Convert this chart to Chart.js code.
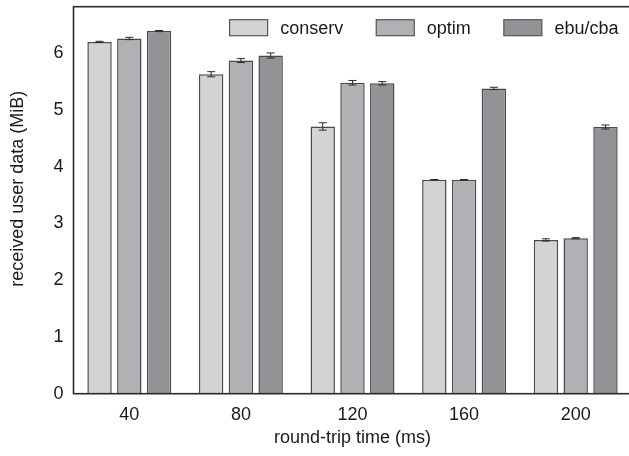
<!DOCTYPE html>
<html>
<head>
<meta charset="utf-8">
<script src="https://cdn.jsdelivr.net/npm/chart.js@4/dist/chart.umd.min.js"></script>
<style>
  html, body { margin: 0; padding: 0; background: #fff; overflow: hidden; }
  #wrap { width: 640px; height: 456px; }
</style>
</head>
<body>
<div id="wrap"><canvas id="rttChart" width="640" height="456"></canvas></div>
<script>
// round-trip time categories (ms)
const categories = ['40', '80', '120', '160', '200'];

// received user data (MiB)
const conserv = [6.20, 5.63, 4.71, 3.77, 2.71];
const optim   = [6.26, 5.87, 5.48, 3.77, 2.74];
const ebuCba  = [6.39, 5.96, 5.47, 5.38, 4.70];

// error bar half-widths (MiB)
const conservErr = [0.01, 0.045, 0.065, 0.005, 0.02];
const optimErr   = [0.02, 0.035, 0.04, 0.005, 0.01];
const ebuCbaErr  = [0.01, 0.045, 0.03, 0.02, 0.035];

const yMin = 0;
const yMax = 6.82;
const yStep = 1;

const yTitle = 'received user data (MiB)';
const xTitle = 'round-trip time (ms)';

const FONT = "'Liberation Sans', Arial, Helvetica, sans-serif";
const INK = '#1a1a1a';

// frame round the plot area (right side falls off the canvas, as in the figure)
const framePlugin = {
    id: 'frame',
    afterDraw(chart) {
        const { ctx, chartArea: a } = chart;
        ctx.save();
        ctx.strokeStyle = '#2b2b2b';
        ctx.lineWidth = 1.6;
        ctx.strokeRect(a.left, a.top, a.right - a.left, a.bottom - a.top);
        ctx.restore();
    }
};

// error bars drawn from the errors arrays through the y scale
const errorBarPlugin = {
    id: 'errorBars',
    afterDatasetsDraw(chart) {
        const { ctx } = chart;
        const yScale = chart.scales.y;
        ctx.save();
        ctx.strokeStyle = '#2a2a2a';
        ctx.lineWidth = 1;
        chart.data.datasets.forEach((ds, di) => {
            const meta = chart.getDatasetMeta(di);
            meta.data.forEach((bar, i) => {
                const v = ds.data[i];
                const e = ds.errors[i];
                const yHi = yScale.getPixelForValue(v + e);
                const yLo = yScale.getPixelForValue(v - e);
                const x = bar.x;
                const cap = 4;
                ctx.beginPath();
                ctx.moveTo(x, yHi); ctx.lineTo(x, yLo);
                ctx.moveTo(x - cap, yHi); ctx.lineTo(x + cap, yHi);
                ctx.moveTo(x - cap, yLo); ctx.lineTo(x + cap, yLo);
                ctx.stroke();
            });
        });
        ctx.restore();
    }
};

// y title sits a bit above the middle of the axis in the figure
const yTitlePlugin = {
    id: 'yTitle',
    afterDraw(chart) {
        const { ctx, chartArea: a } = chart;
        ctx.save();
        ctx.font = '18px ' + FONT;
        ctx.fillStyle = INK;
        ctx.textAlign = 'center';
        ctx.textBaseline = 'middle';
        ctx.translate(a.left - 55.5, (a.top + a.bottom) / 2 - 11.5);
        ctx.rotate(-Math.PI / 2);
        ctx.fillText(yTitle, 0, 0);
        ctx.restore();
    }
};

// legend sits inside the plot area, top right
const insideLegendPlugin = {
    id: 'insideLegend',
    afterDraw(chart) {
        const { ctx, chartArea: a } = chart;
        const boxW = 38, boxH = 16, textGap = 12.6, itemGap = 33;
        ctx.save();
        ctx.font = '18px ' + FONT;
        ctx.textBaseline = 'middle';
        const items = chart.data.datasets.map(ds => ({
            ds, w: ctx.measureText(ds.label).width
        }));
        const total = items.reduce((s, it) => s + boxW + textGap + it.w, 0) + itemGap * (items.length - 1);
        let x = a.right - 13 - total;
        const yMid = a.top + 21;
        items.forEach(it => {
            ctx.fillStyle = it.ds.backgroundColor;
            ctx.fillRect(x, yMid - boxH / 2, boxW, boxH);
            ctx.strokeStyle = '#555';
            ctx.lineWidth = 1.2;
            ctx.strokeRect(x, yMid - boxH / 2, boxW, boxH);
            ctx.fillStyle = INK;
            ctx.fillText(it.ds.label, x + boxW + textGap, yMid + 1);
            x += boxW + textGap + it.w + itemGap;
        });
        ctx.restore();
    }
};

const barStyle = {
    borderColor: '#4a4a4a',
    borderWidth: 1.5,
    categoryPercentage: 0.8,
    barPercentage: 0.82
};

new Chart(document.getElementById('rttChart').getContext('2d'), {
    type: 'bar',
    data: {
        labels: categories,
        datasets: [
            { label: 'conserv', data: conserv, errors: conservErr, backgroundColor: '#d2d3d5', ...barStyle },
            { label: 'optim', data: optim, errors: optimErr, backgroundColor: '#b0b1b4', ...barStyle },
            { label: 'ebu/cba', data: ebuCba, errors: ebuCbaErr, backgroundColor: '#929396', ...barStyle }
        ]
    },
    options: {
        responsive: false,
        animation: false,
        devicePixelRatio: 1,
        layout: { padding: { top: 6.7, right: 8.5, left: 0, bottom: 0 } },
        plugins: {
            legend: { display: false },
            tooltip: { enabled: false }
        },
        scales: {
            x: {
                grid: { display: false, drawTicks: false },
                border: { display: false },
                ticks: { color: INK, padding: 11, font: { family: FONT, size: 18 } },
                title: {
                    display: true,
                    text: xTitle,
                    color: INK,
                    font: { family: FONT, size: 18 },
                    padding: { top: 0, bottom: 7.2 }
                },
                afterFit(scale) {
                    scale.height = 62.3;
                    scale.paddingLeft = 0;
                    scale.paddingRight = 0;
                }
            },
            y: {
                min: yMin,
                max: yMax,
                grid: { display: false, drawTicks: false },
                border: { display: false },
                ticks: {
                    stepSize: yStep,
                    includeBounds: false,
                    color: INK,
                    padding: 10,
                    font: { family: FONT, size: 18 }
                },
                title: { display: false },
                afterFit(scale) {
                    scale.width = 73.5;
                    scale.paddingTop = 0;
                    scale.paddingBottom = 0;
                }
            }
        }
    },
    plugins: [errorBarPlugin, framePlugin, yTitlePlugin, insideLegendPlugin]
});
</script>
</body>
</html>
